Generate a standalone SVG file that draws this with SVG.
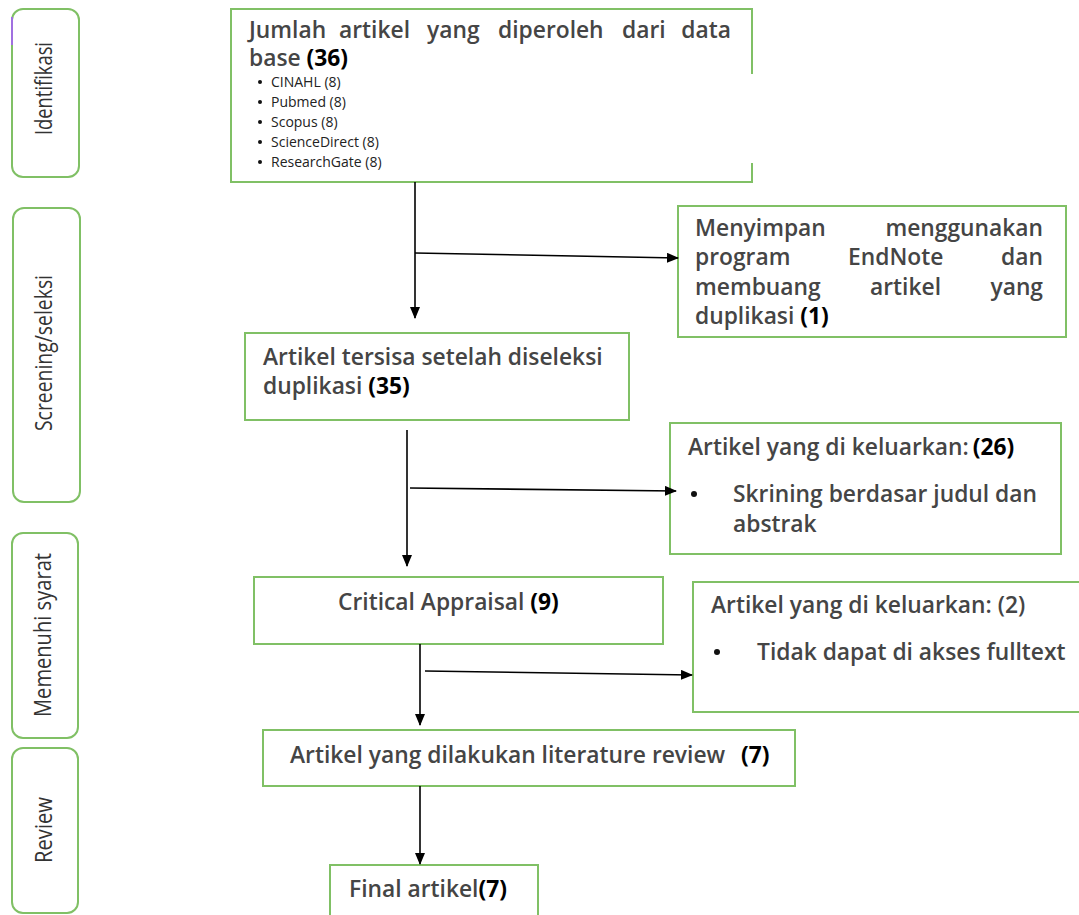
<svg xmlns="http://www.w3.org/2000/svg" width="1079" height="915" viewBox="0 0 1079 915">
<defs>
<marker id="ah" markerWidth="12" markerHeight="10" refX="11" refY="5" orient="auto" markerUnits="userSpaceOnUse">
<path d="M0,0 L12,5 L0,10 Z" fill="#000"/>
</marker>
<style>
.box{fill:#fff;stroke:#80c065;stroke-width:2}
.tab{fill:#fff;stroke:#80c065;stroke-width:2}
.t{font-family:"Open Sans","Liberation Sans",sans-serif;font-size:22.8px;font-weight:600;fill:#454545}
.b{font-weight:bold;fill:#000}
.s{font-family:"Open Sans","Liberation Sans",sans-serif;font-size:14px;fill:#222}
.v{font-family:"Open Sans","Liberation Sans",sans-serif;font-size:23px;fill:#333}
.c{stroke:#000;stroke-width:1.6;fill:none}
</style>
</defs>
<rect width="1079" height="915" fill="#fff"/>

<g id="tab-identifikasi">
<rect class="tab" x="12" y="9" width="67" height="168" rx="11"/>
<line x1="12" y1="17" x2="12" y2="45" stroke="#a070e0" stroke-width="2"/>
<text class="v" transform="translate(52,135) rotate(-90)" textLength="93" lengthAdjust="spacingAndGlyphs">Identifikasi</text>
</g>
<g id="tab-screening">
<rect class="tab" x="13" y="208" width="67" height="294" rx="11"/>
<text class="v" transform="translate(52,431) rotate(-90)" textLength="156" lengthAdjust="spacingAndGlyphs">Screening/seleksi</text>
</g>
<g id="tab-memenuhi">
<rect class="tab" x="12" y="533" width="66" height="205" rx="11"/>
<text class="v" transform="translate(51,717) rotate(-90)" textLength="164" lengthAdjust="spacingAndGlyphs">Memenuhi syarat</text>
</g>
<g id="tab-review">
<rect class="tab" x="12" y="748" width="66" height="165" rx="11"/>
<text class="v" transform="translate(52,863) rotate(-90)" textLength="66" lengthAdjust="spacingAndGlyphs">Review</text>
</g>

<g id="n-jumlah">
<rect x="231" y="9" width="521" height="173" fill="#fff" stroke="none"/>
<path class="box" fill="none" d="M752,74 V9 H231 V182 H752 V163"/>
<text class="t" y="38"><tspan x="249">Jumlah</tspan><tspan x="339">artikel</tspan><tspan x="427">yang</tspan><tspan x="498">diperoleh</tspan><tspan x="622">dari</tspan></text>
<text class="t" x="731" y="38" text-anchor="end">data</text>
<text class="t" x="249" y="66">base <tspan class="b">(36)</tspan></text>
<g fill="#111"><circle cx="260" cy="82" r="2"/><circle cx="260" cy="102" r="2"/><circle cx="260" cy="122" r="2"/><circle cx="260" cy="142" r="2"/><circle cx="260" cy="162" r="2"/></g>
<text class="s" x="271" y="87">CINAHL (8)</text>
<text class="s" x="271" y="107">Pubmed (8)</text>
<text class="s" x="271" y="127">Scopus (8)</text>
<text class="s" x="271" y="147">ScienceDirect (8)</text>
<text class="s" x="271" y="167">ResearchGate (8)</text>
</g>

<g id="n-endnote">
<rect class="box" x="678" y="206" width="388" height="131"/>
<text class="t" x="695" y="236">Menyimpan</text>
<text class="t" x="1043" y="236" text-anchor="end">menggunakan</text>
<text class="t" x="695" y="265">program</text>
<text class="t" x="848" y="265">EndNote</text>
<text class="t" x="1043" y="265" text-anchor="end">dan</text>
<text class="t" x="695" y="295">membuang</text>
<text class="t" x="870" y="295">artikel</text>
<text class="t" x="1043" y="295" text-anchor="end">yang</text>
<text class="t" x="695" y="324">duplikasi <tspan class="b">(1)</tspan></text>
</g>

<g id="n-tersisa">
<rect class="box" x="245" y="333" width="384" height="87"/>
<text class="t" x="263" y="365">Artikel tersisa setelah diseleksi</text>
<text class="t" x="263" y="394">duplikasi <tspan class="b">(35)</tspan></text>
</g>

<g id="n-keluar26">
<rect class="box" x="670" y="423" width="391" height="131"/>
<text class="t" x="688" y="455">Artikel yang di keluarkan:<tspan class="b" dx="4">(26)</tspan></text>
<circle cx="694" cy="494" r="3" fill="#111"/>
<text class="t" x="733" y="502">Skrining berdasar judul dan</text>
<text class="t" x="733" y="532">abstrak</text>
</g>

<g id="n-critical">
<rect class="box" x="254" y="577" width="409" height="67"/>
<text class="t" x="338" y="610">Critical Appraisal <tspan class="b">(9)</tspan></text>
</g>

<g id="n-keluar2">
<rect class="box" x="693" y="582" width="400" height="130"/>
<text class="t" x="711" y="613">Artikel yang di keluarkan: (2)</text>
<circle cx="717" cy="652" r="3" fill="#111"/>
<text class="t" x="757" y="660">Tidak dapat di akses fulltext</text>
</g>

<g id="n-review">
<rect class="box" x="263" y="730" width="532" height="56"/>
<text class="t" x="290" y="763">Artikel yang dilakukan literature review <tspan class="b" x="741">(7)</tspan></text>
</g>

<g id="n-final">
<rect class="box" x="330" y="865" width="208" height="60"/>
<text class="t" x="349" y="897">Final artikel<tspan class="b">(7)</tspan></text>
</g>

<g id="connectors">
<path class="c" d="M415,182 V318" marker-end="url(#ah)"/>
<path class="c" d="M415,253 L678,258" marker-end="url(#ah)"/>
<path class="c" d="M407,430 V566" marker-end="url(#ah)"/>
<path class="c" d="M410,488 L676,491" marker-end="url(#ah)"/>
<path class="c" d="M420,644 V725" marker-end="url(#ah)"/>
<path class="c" d="M425,671 L692,675" marker-end="url(#ah)"/>
<path class="c" d="M420,786 V864" marker-end="url(#ah)"/>
</g>
</svg>
